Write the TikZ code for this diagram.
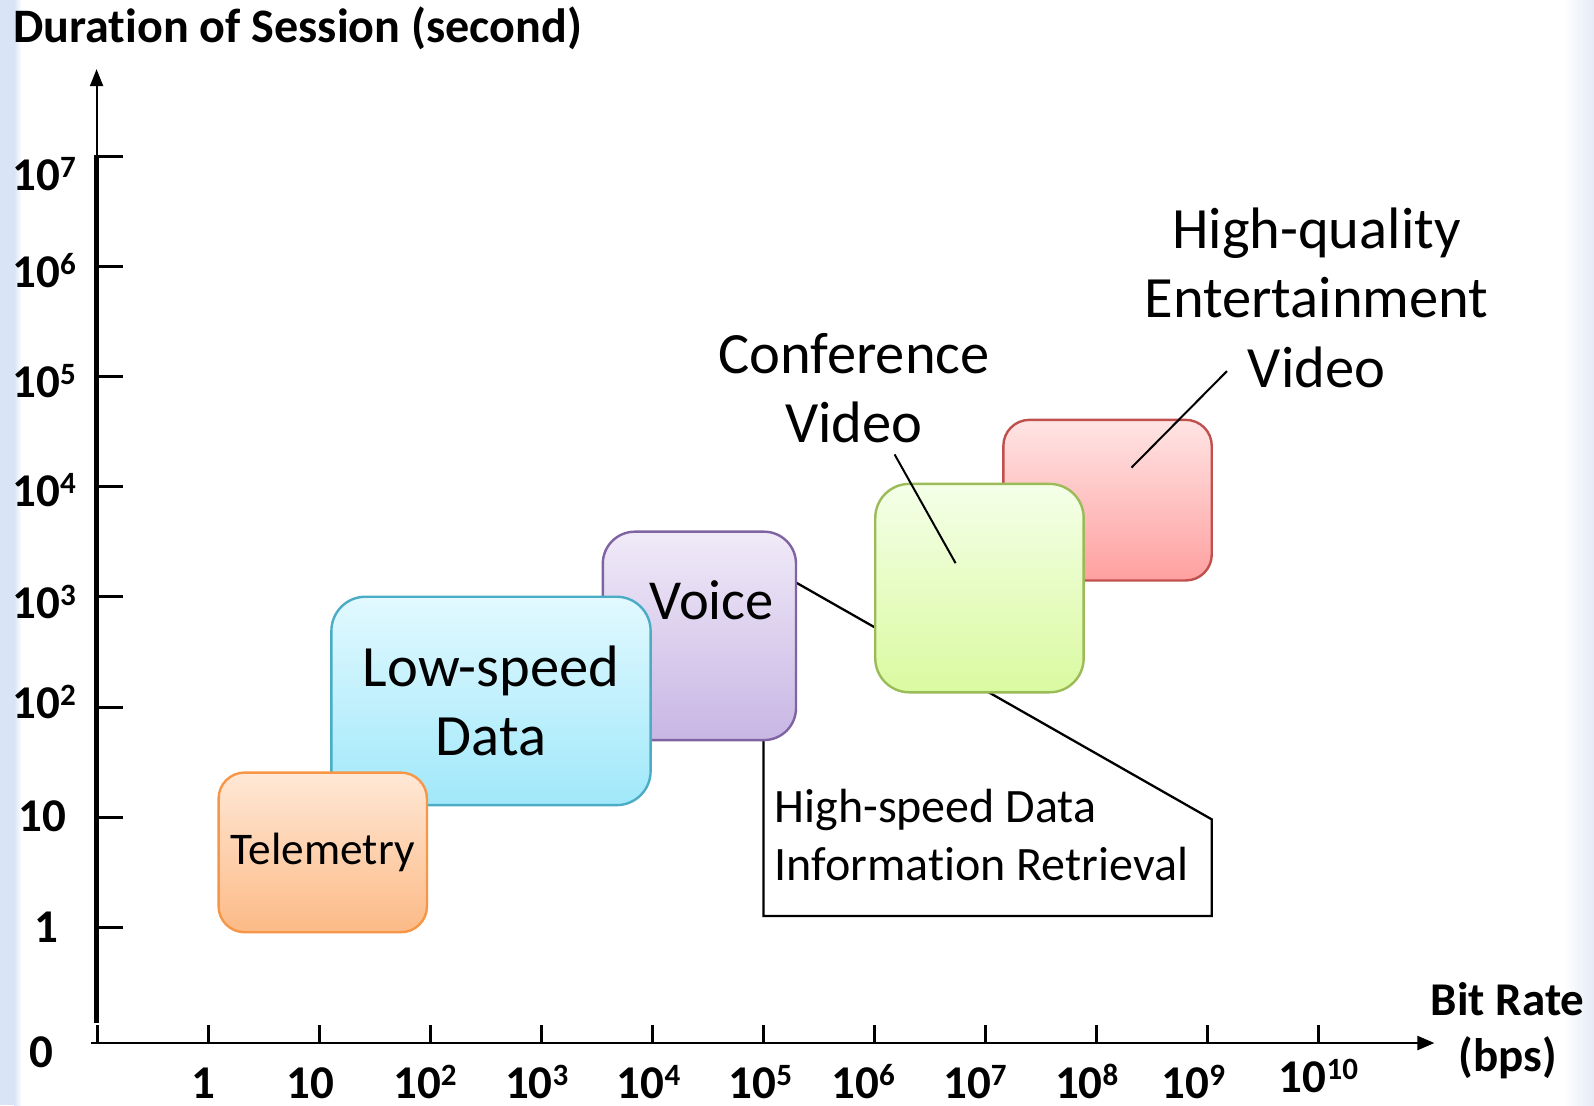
\documentclass[tikz,border=0pt]{standalone}
\usepackage{fontspec}
\setmainfont{Carlito}[Ligatures=NoCommon]
\usetikzlibrary{arrows.meta}

\definecolor{edgeblue}{RGB}{217,228,246}
\definecolor{rimblue}{RGB}{228,235,248}
\definecolor{telLine}{RGB}{247,150,70}
\definecolor{telTop}{RGB}{255,232,214}
\definecolor{telBot}{RGB}{252,186,134}
\definecolor{lowLine}{RGB}{75,172,198}
\definecolor{lowTop}{RGB}{226,249,255}
\definecolor{lowBot}{RGB}{160,232,250}
\definecolor{voiLine}{RGB}{128,100,162}
\definecolor{voiTop}{RGB}{240,234,248}
\definecolor{voiBot}{RGB}{200,182,228}
\definecolor{conLine}{RGB}{155,187,89}
\definecolor{conTop}{RGB}{244,255,232}
\definecolor{conBot}{RGB}{218,250,160}
\definecolor{hqLine}{RGB}{192,80,77}
\definecolor{hqTop}{RGB}{255,228,228}
\definecolor{hqBot}{RGB}{255,160,160}

% power of ten: base digits followed by a raised exponent
\newcommand\pten[2]{#1\raisebox{13pt}{\fontsize{31}{32}\selectfont #2}}

\begin{document}
\begin{tikzpicture}[x=1.0166pt,y=-1.0166pt,
  every node/.style={inner sep=0pt, outer sep=0pt},
  tile/.style={draw, line width=2.4pt, align=center},
  axisfont/.style={font=\fontsize{47}{55}\selectfont\bfseries},
  bigfont/.style={font=\fontsize{58.5}{69.2}\selectfont},
  pointer/.style={draw, line width=2pt},
  ylab/.style={axisfont, anchor=base},
  xlab/.style={axisfont, anchor=base}]

% canvas and its tinted margins
\useasboundingbox (0,0) rectangle (1568,1087);
\fill[white] (0,0) rectangle (1568,1087);
\fill[edgeblue] (0,0) rectangle (14,1087);
\shade[left color=edgeblue, right color=white] (14,0) rectangle (21,1087);
\shade[left color=white, right color=rimblue] (1538,0) rectangle (1568,1087);

% title of the vertical axis
\node[font=\fontsize{48.1}{56}\selectfont\bfseries, anchor=base west] (ytitle) at (13,42) {Duration of Session (second)};

% vertical axis: thin tip section, thick scale section
\draw[line width=2pt, -{Triangle[width=13pt,length=17pt]}] (95,154) -- (95,68);
\draw[line width=4.5pt] (95,1006) -- (95,152);
\foreach \yy in {153.5,261.9,370.3,478.7,587.1,695.5,803.9,912.3}
  \draw[line width=3pt] (95,\yy) -- (121,\yy);

% horizontal axis
\draw[line width=2.2pt, -{Triangle[width=14pt,length=17pt]}] (90,1026) -- (1411,1026);
\foreach \xx in {95.7,204.9,314.1,423.3,532.5,641.7,750.9,860.1,969.3,1078.5,1187.7,1296.9}
  \draw[line width=2.5pt] (\xx,1027) -- (\xx,1008);

% vertical scale labels
\node[ylab] (y7) at (43.5,187) {\pten{10}{7}};
\node[ylab] (y6) at (43.5,283) {\pten{10}{6}};
\node[ylab] (y5) at (43.5,391) {\pten{10}{5}};
\node[ylab] (y4) at (43.5,498) {\pten{10}{4}};
\node[ylab] (y3) at (43.5,608) {\pten{10}{3}};
\node[ylab] (y2) at (43.5,707) {\pten{10}{2}};
\node[ylab] (y1) at (41.5,818) {10};
\node[ylab] (y0) at (46,927) {1};
\node[ylab] (yz) at (41,1050) {0};

% horizontal scale labels
\node[xlab] (x0) at (200,1081) {1};
\node[xlab] (x1) at (305,1081) {10};
\node[xlab] (x2) at (418,1081) {\pten{10}{2}};
\node[xlab] (x3) at (528,1081) {\pten{10}{3}};
\node[xlab] (x4) at (638,1081) {\pten{10}{4}};
\node[xlab] (x5) at (748,1081) {\pten{10}{5}};
\node[xlab] (x6) at (849,1081) {\pten{10}{6}};
\node[xlab] (x7) at (959,1081) {\pten{10}{7}};
\node[xlab] (x8) at (1069,1081) {\pten{10}{8}};
\node[xlab] (x9) at (1174,1081) {\pten{10}{9}};
\node[xlab] (x10) at (1297,1075) {\pten{10}{10}};

\node[axisfont, align=center, font=\fontsize{47}{56}\selectfont\bfseries] (xtitle) at (1483,1014) {Bit Rate\\(bps)};

% outline of the high-speed data callout, running behind the boxes
\coordinate (hsdA) at (783,573);
\coordinate (hsdB) at (1192,806);
\coordinate (hsdC) at (1192,901);
\coordinate (hsdD) at (751,901);
\coordinate (hsdE) at (751,700);
\draw[line width=2.3pt, line join=miter] (hsdA) -- (hsdB) -- (hsdC) -- (hsdD) -- (hsdE);

% service regions, back to front
\node[tile, rounded corners=26pt, draw=hqLine, top color=hqTop, bottom color=hqBot,
      minimum width=208.4pt, minimum height=160.6pt] (hq) at (1089.5,492) {};
\node[tile, rounded corners=34pt, draw=conLine, top color=conTop, bottom color=conBot,
      minimum width=208.4pt, minimum height=208.4pt] (conf) at (963.5,578.5) {};
\node[tile, rounded corners=32pt, draw=voiLine, top color=voiTop, bottom color=voiBot,
      minimum width=193.2pt, minimum height=208.4pt] (voice) at (688,625.5) {};
\node[tile, rounded corners=34pt, draw=lowLine, top color=lowTop, bottom color=lowBot,
      minimum width=319.2pt, minimum height=208.4pt, bigfont] (low) at (483,689.5) {Low-speed\\Data};
\node[tile, rounded corners=26pt, draw=telLine, top color=telTop, bottom color=telBot,
      minimum width=208.4pt, minimum height=159.6pt, font=\fontsize{45.3}{52}\selectfont] (tel) at (317.5,838.5) {Telemetry};

% labels
\node[font=\fontsize{56.5}{68}\selectfont] (voicelab) at (700,590) {Voice};
\node[font=\fontsize{48}{58}\selectfont, align=left, anchor=west] (hsd) at (762,821)
  {High-speed Data\\Information Retrieval};
\node[bigfont, align=center] (conflab) at (840,382) {Conference\\Video};
\node[bigfont, align=center] (hqlab) at (1295,293) {High-quality\\Entertainment\\Video};

% leader lines from the labels into their regions
\coordinate (confTail) at (880,447);
\coordinate (confTip) at (940,554);
\coordinate (hqTail) at (1207,365);
\coordinate (hqTip) at (1113,460);
\draw[pointer] (confTail) -- (confTip);
\draw[pointer] (hqTail) -- (hqTip);
\end{tikzpicture}
\end{document}
